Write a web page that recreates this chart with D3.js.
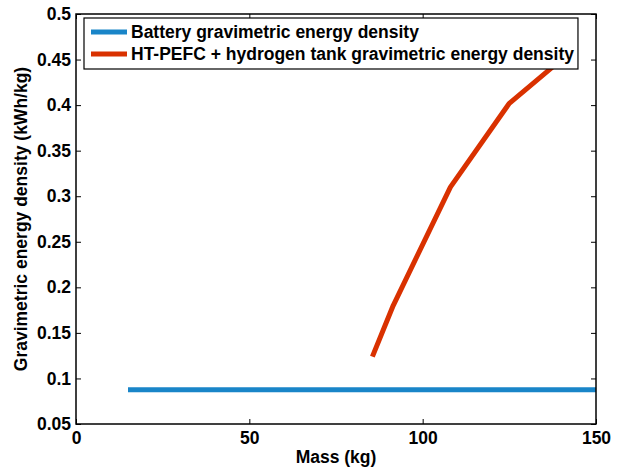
<!DOCTYPE html>
<html>
<head>
<meta charset="utf-8">
<script src="https://cdn.jsdelivr.net/npm/d3@7"></script>
<style>
  body { margin: 0; background: #fff; }
  text { font-family: "Liberation Sans", Arial, Helvetica, sans-serif; font-weight: bold; }
</style>
</head>
<body>
<div id="chart"></div>
<script>
// battery: flat line
const batteryMass = [15, 150];
const batteryDensity = [0.0875, 0.0875];

// HT-PEFC + hydrogen tank
const fcMass = [85.5, 91.5, 108, 125, 140];
const fcDensity = [0.124, 0.18, 0.31, 0.402, 0.45];

const xTicks = [0, 50, 100, 150];
const yTicks = [0.05, 0.1, 0.15, 0.2, 0.25, 0.3, 0.35, 0.4, 0.45, 0.5];

const seriesNames = ["Battery gravimetric energy density",
  "HT-PEFC + hydrogen tank gravimetric energy density"];
const seriesColors = ["#1985c8", "#d93100"];

const width = 625, height = 470;
const margin = { top: 14, right: 29, bottom: 46, left: 76 };
const w = width - margin.left - margin.right,
  h = height - margin.top - margin.bottom;

const svg = d3.select("#chart").append("svg")
  .attr("width", width)
  .attr("height", height);

const g = svg.append("g")
  .attr("transform", `translate(${margin.left},${margin.top})`);

const x = d3.scaleLinear().domain([0, 150]).range([0, w]);
const y = d3.scaleLinear().domain([0.05, 0.5]).range([h, 0]);

// axes, ticks pointing inwards like matlab
const fontSize = "17.5px";
g.append("g")
  .attr("transform", `translate(0,${h})`)
  .call(d3.axisBottom(x).tickValues(xTicks).tickSizeInner(-5).tickSizeOuter(0).tickPadding(8))
  .call(a => a.select(".domain").remove())
  .selectAll("text").style("font-size", fontSize).attr("fill", "#000");

g.append("g")
  .call(d3.axisTop(x).tickValues(xTicks).tickSizeInner(-5).tickSizeOuter(0).tickFormat(""))
  .call(a => a.select(".domain").remove());

g.append("g")
  .call(d3.axisLeft(y).tickValues(yTicks).tickSizeInner(-5).tickSizeOuter(0).tickPadding(5)
    .tickFormat(d => d3.format("~g")(d)))
  .call(a => a.select(".domain").remove())
  .selectAll("text").style("font-size", fontSize).attr("fill", "#000");

g.append("g")
  .attr("transform", `translate(${w},0)`)
  .call(d3.axisRight(y).tickValues(yTicks).tickSizeInner(-5).tickSizeOuter(0).tickFormat(""))
  .call(a => a.select(".domain").remove());

g.selectAll(".tick line").attr("stroke", "#000");

// lines
const line = d3.line().x(d => x(d[0])).y(d => y(d[1]));

g.append("path")
  .datum(batteryMass.map((m, i) => [m, batteryDensity[i]]))
  .attr("d", line)
  .attr("fill", "none")
  .attr("stroke", seriesColors[0])
  .attr("stroke-width", 5);

g.append("path")
  .datum(fcMass.map((m, i) => [m, fcDensity[i]]))
  .attr("d", line)
  .attr("fill", "none")
  .attr("stroke", seriesColors[1])
  .attr("stroke-width", 5)
  .attr("stroke-linejoin", "round");

// plot box
g.append("rect")
  .attr("width", w)
  .attr("height", h)
  .attr("fill", "none")
  .attr("stroke", "#000")
  .attr("stroke-width", 1.5);

// axis labels
svg.append("text")
  .attr("x", margin.left + w / 2)
  .attr("y", 463)
  .attr("text-anchor", "middle")
  .style("font-size", fontSize)
  .text("Mass (kg)");

svg.append("text")
  .attr("transform", `translate(27,${margin.top + h / 2}) rotate(-90)`)
  .attr("text-anchor", "middle")
  .style("font-size", fontSize)
  .text("Gravimetric energy density (kWh/kg)");

// legend
const legend = svg.append("g").attr("transform", "translate(84,18)");
const legendBox = legend.append("rect")
  .attr("height", 51)
  .attr("fill", "#fff")
  .attr("stroke", "#000")
  .attr("stroke-width", 1.2);

const rows = legend.selectAll("g.row")
  .data(seriesNames)
  .enter().append("g")
  .attr("class", "row")
  .attr("transform", (d, i) => `translate(0,${14 + i * 22})`);

rows.append("line")
  .attr("x1", 7).attr("x2", 43)
  .attr("stroke", (d, i) => seriesColors[i])
  .attr("stroke-width", 5);

rows.append("text")
  .attr("x", 47)
  .attr("dy", "0.36em")
  .style("font-size", fontSize)
  .text(d => d);

let maxLen = 0;
rows.selectAll("text").each(function() { maxLen = Math.max(maxLen, this.getComputedTextLength()); });
legendBox.attr("width", 47 + maxLen + 4);
</script>
</body>
</html>
